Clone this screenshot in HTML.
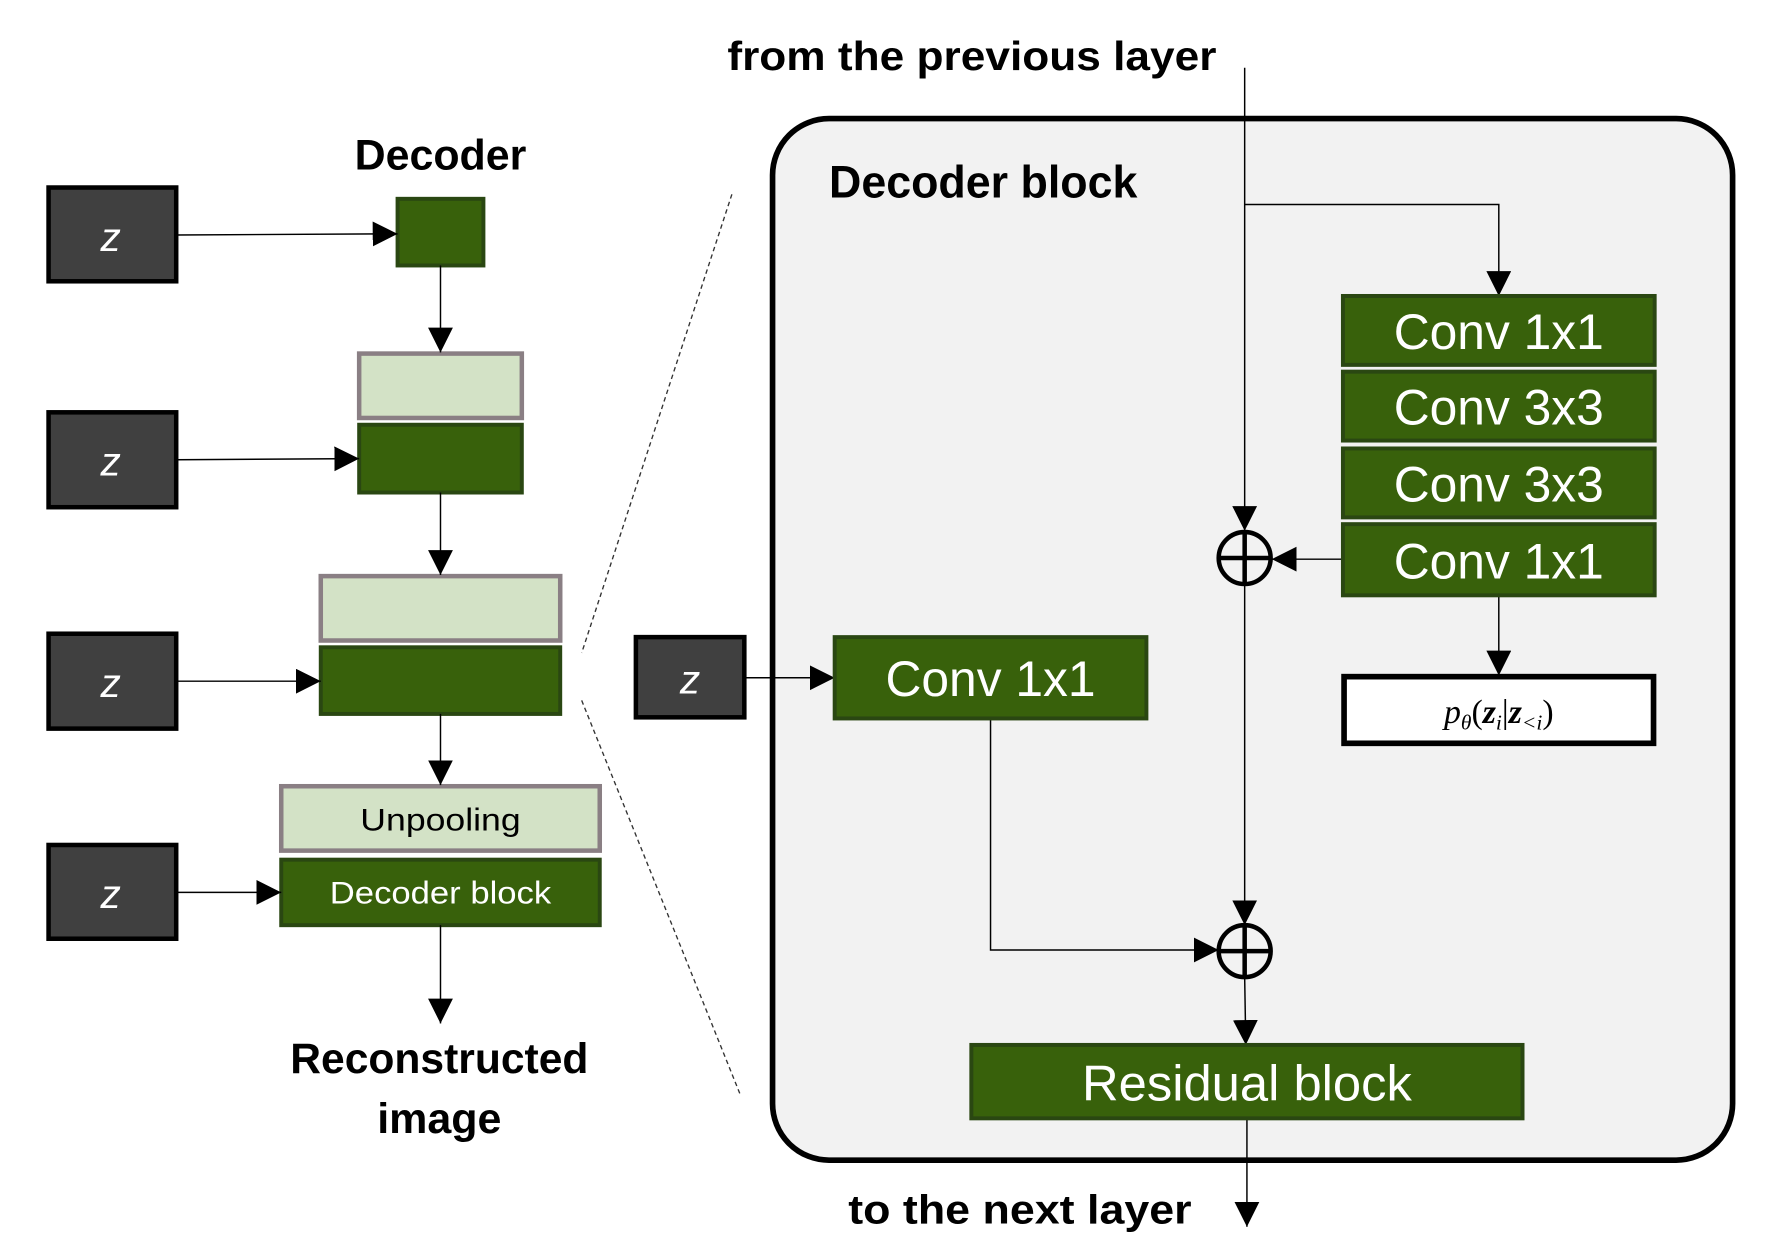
<!DOCTYPE html>
<html><head><meta charset="utf-8"><style>
html,body{margin:0;padding:0;background:#fff;}
svg{display:block;}
.b{font-family:"Liberation Sans",sans-serif;font-weight:bold;fill:#000;}
.w{font-family:"Liberation Sans",sans-serif;fill:#fff;}
.g{fill:#38610b;stroke:#2a4712;stroke-width:3.5;}
.l{fill:#d3e2c6;stroke:#8a7f84;stroke-width:4;}
.zb{fill:#404040;stroke:#000;stroke-width:4;}
.ln{stroke:#000;stroke-width:1.3;fill:none;}
</style></head><body>
<svg width="1771" height="1246" viewBox="0 0 1568 1103" preserveAspectRatio="none" xmlns="http://www.w3.org/2000/svg">
<defs>
<marker id="a" markerWidth="24" markerHeight="24" refX="22" refY="11" orient="auto" markerUnits="userSpaceOnUse">
<path d="M0,0 L22,11 L0,22 z" fill="#000"/></marker>
</defs>
<rect x="684" y="105" width="850" height="922" rx="50" fill="#f2f2f2" stroke="#000" stroke-width="5"/>
<text x="644" y="62" class="b" font-size="36" textLength="433" lengthAdjust="spacingAndGlyphs">from the previous layer</text>
<text x="734" y="175" class="b" font-size="40" textLength="273" lengthAdjust="spacingAndGlyphs">Decoder block</text>
<text x="751" y="1083" class="b" font-size="36" textLength="304" lengthAdjust="spacingAndGlyphs">to the next layer</text>

<line x1="1102" y1="60" x2="1102" y2="470" class="ln" marker-end="url(#a)"/>
<polyline points="1102,181 1327,181 1327,262" class="ln" marker-end="url(#a)"/>
<line x1="1102" y1="517" x2="1102" y2="819" class="ln" marker-end="url(#a)"/>
<line x1="1102" y1="865" x2="1103" y2="925" class="ln" marker-end="url(#a)"/>
<line x1="1104" y1="990" x2="1104" y2="1086" class="ln" marker-end="url(#a)"/>
<line x1="1189" y1="495" x2="1126" y2="495" class="ln" marker-end="url(#a)"/>
<line x1="1327" y1="527" x2="1327" y2="598" class="ln" marker-end="url(#a)"/>
<polyline points="877,636 877,841 1079,841" class="ln" marker-end="url(#a)"/>
<line x1="659" y1="600" x2="739" y2="600" class="ln" marker-end="url(#a)"/>

<g fill="none" stroke="#000" stroke-width="4">
<circle cx="1102" cy="494" r="23"/><line x1="1079" y1="494" x2="1125" y2="494"/><line x1="1102" y1="471" x2="1102" y2="517"/>
<circle cx="1102" cy="842" r="23"/><line x1="1079" y1="842" x2="1125" y2="842"/><line x1="1102" y1="819" x2="1102" y2="865"/>
</g>

<rect x="1189" y="262" width="276" height="61" class="g"/>
<rect x="1189" y="329" width="276" height="61" class="g"/>
<rect x="1189" y="397" width="276" height="61" class="g"/>
<rect x="1189" y="464" width="276" height="63" class="g"/>
<g class="w" font-size="44" text-anchor="middle">
<text x="1327" y="309" textLength="186" lengthAdjust="spacingAndGlyphs">Conv 1x1</text>
<text x="1327" y="376" textLength="186" lengthAdjust="spacingAndGlyphs">Conv 3x3</text>
<text x="1327" y="444" textLength="186" lengthAdjust="spacingAndGlyphs">Conv 3x3</text>
<text x="1327" y="512" textLength="186" lengthAdjust="spacingAndGlyphs">Conv 1x1</text>
</g>
<rect x="1190" y="599" width="274" height="59" fill="#fff" stroke="#000" stroke-width="5"/>
<text x="1327" y="640" text-anchor="middle" font-family="'Liberation Serif',serif" font-style="italic" font-size="30">p<tspan font-size="19" dy="6">θ</tspan><tspan dy="-6" font-style="normal">(</tspan><tspan font-weight="bold">z</tspan><tspan font-size="19" dy="6">i</tspan><tspan dy="-6" font-style="normal">|</tspan><tspan font-weight="bold">z</tspan><tspan font-size="19" dy="6">&lt;i</tspan><tspan dy="-6" font-style="normal">)</tspan></text>

<rect x="563" y="564" width="96" height="71" class="zb"/>
<text x="611" y="614" class="w" font-size="36" font-style="italic" text-anchor="middle">z</text>
<rect x="739" y="564" width="276" height="72" class="g"/>
<text x="877" y="616" class="w" font-size="44" text-anchor="middle" textLength="186" lengthAdjust="spacingAndGlyphs">Conv 1x1</text>
<rect x="860" y="925" width="488" height="65" class="g"/>
<text x="1104" y="974" class="w" font-size="44" text-anchor="middle" textLength="292" lengthAdjust="spacingAndGlyphs">Residual block</text>

<line x1="648" y1="172" x2="515" y2="578" stroke="#333" stroke-width="1.2" stroke-dasharray="4,3"/>
<line x1="515" y1="620" x2="655" y2="968" stroke="#333" stroke-width="1.2" stroke-dasharray="4,3"/>

<text x="390" y="150" class="b" font-size="38" text-anchor="middle" textLength="152" lengthAdjust="spacingAndGlyphs">Decoder</text>
<rect x="43" y="166" width="113" height="83" class="zb"/>
<rect x="43" y="365" width="113" height="84" class="zb"/>
<rect x="43" y="561" width="113" height="84" class="zb"/>
<rect x="43" y="748" width="113" height="83" class="zb"/>
<g class="w" font-size="36" font-style="italic" text-anchor="middle">
<text x="98" y="222">z</text><text x="98" y="421">z</text><text x="98" y="617">z</text><text x="98" y="804">z</text>
</g>
<rect x="352" y="176" width="76" height="59" class="g"/>
<rect x="318" y="313" width="144" height="57" class="l"/>
<rect x="318" y="376" width="144" height="60" class="g"/>
<rect x="284" y="510" width="212" height="57" class="l"/>
<rect x="284" y="573" width="212" height="59" class="g"/>
<rect x="249" y="696" width="282" height="57" class="l"/>
<rect x="249" y="761" width="282" height="58" class="g"/>
<text x="390" y="735" font-family="'Liberation Sans',sans-serif" font-size="28" text-anchor="middle" fill="#000" textLength="142" lengthAdjust="spacingAndGlyphs">Unpooling</text>
<text x="390" y="800" class="w" font-size="28" text-anchor="middle" textLength="196" lengthAdjust="spacingAndGlyphs">Decoder block</text>

<line x1="156" y1="208" x2="352" y2="207" class="ln" marker-end="url(#a)"/>
<line x1="156" y1="407" x2="318" y2="406" class="ln" marker-end="url(#a)"/>
<line x1="156" y1="603" x2="284" y2="603" class="ln" marker-end="url(#a)"/>
<line x1="156" y1="790" x2="249" y2="790" class="ln" marker-end="url(#a)"/>
<line x1="390" y1="235" x2="390" y2="312" class="ln" marker-end="url(#a)"/>
<line x1="390" y1="436" x2="390" y2="509" class="ln" marker-end="url(#a)"/>
<line x1="390" y1="632" x2="390" y2="695" class="ln" marker-end="url(#a)"/>
<line x1="390" y1="819" x2="390" y2="906" class="ln" marker-end="url(#a)"/>
<text x="389" y="950" class="b" font-size="38" text-anchor="middle" textLength="264" lengthAdjust="spacingAndGlyphs">Reconstructed</text>
<text x="389" y="1003" class="b" font-size="38" text-anchor="middle" textLength="110" lengthAdjust="spacingAndGlyphs">image</text>
</svg>
</body></html>
